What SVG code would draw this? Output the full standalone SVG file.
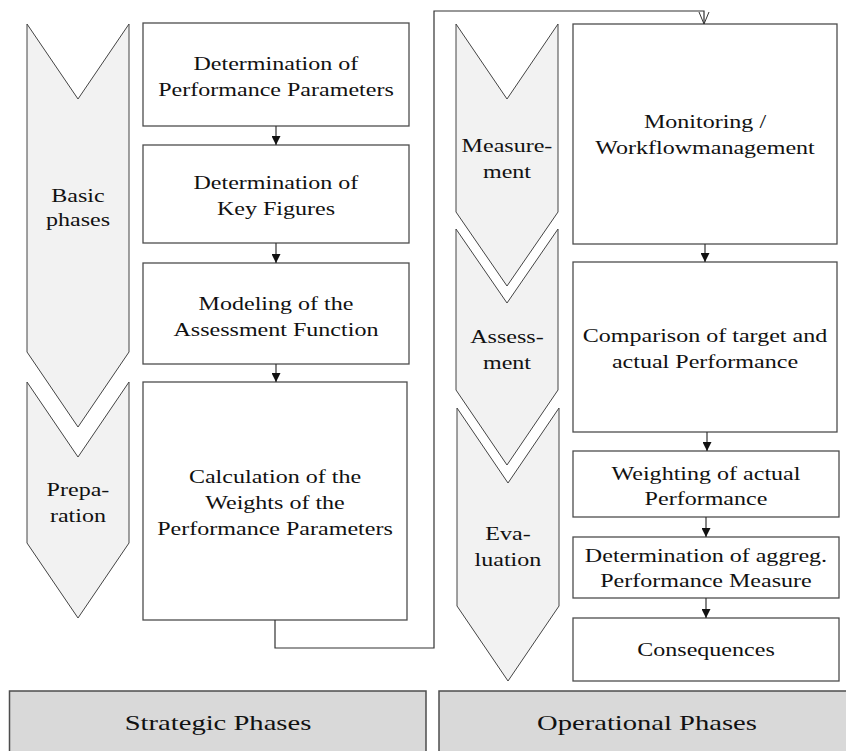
<svg xmlns="http://www.w3.org/2000/svg" width="846" height="751" viewBox="0 0 846 751">
  <style>
    text { font-family: "Liberation Serif", "DejaVu Serif", serif; font-size: 18.5px; fill: #111; text-anchor: middle;
           transform-box: fill-box; transform-origin: center; transform: scaleX(1.3); }
    .big { font-size: 22px; }
    .chev { fill: #f2f2f2; stroke: #444; stroke-width: 1; }
    .box { fill: #fff; stroke: #4d4d4d; stroke-width: 1.3; }
    .phase { fill: #d9d9d9; stroke: #4d4d4d; stroke-width: 1.5; }
    .link { fill: none; stroke: #333; stroke-width: 1.2; }
  </style>
  <defs>
    <marker id="tri" viewBox="0 0 10 10" refX="10" refY="5" markerWidth="10" markerHeight="9" markerUnits="userSpaceOnUse" orient="auto">
      <path d="M0,0 L10,5 L0,10 Z" fill="#111"/>
    </marker>
    <marker id="openv" viewBox="0 0 12 12" refX="12" refY="6" markerWidth="12" markerHeight="12" markerUnits="userSpaceOnUse" orient="auto">
      <path d="M0,1 L12,6 L0,11" fill="none" stroke="#333" stroke-width="1"/>
    </marker>
  </defs>

  <!-- phase chevrons, strategic side -->
  <g id="chev-basic">
    <path class="chev" d="M27,24 L78,99 L129,24 L129,352 L78,427 L27,352 Z"/>
    <text x="78" y="202">Basic</text>
    <text x="78" y="226">phases</text>
  </g>
  <g id="chev-preparation">
    <path class="chev" d="M27,382 L78,457 L129,382 L129,543 L78,618 L27,543 Z"/>
    <text x="78" y="496">Prepa-</text>
    <text x="78" y="522">ration</text>
  </g>

  <!-- phase chevrons, operational side -->
  <g id="chev-measurement">
    <path class="chev" d="M456,24 L507,99 L558,24 L558,212 L507,286 L456,212 Z"/>
    <text x="507" y="152">Measure-</text>
    <text x="507" y="178">ment</text>
  </g>
  <g id="chev-assessment">
    <path class="chev" d="M456,229 L507,303 L558,229 L558,390 L507,465 L456,390 Z"/>
    <text x="507" y="343">Assess-</text>
    <text x="507" y="369">ment</text>
  </g>
  <g id="chev-evaluation">
    <path class="chev" d="M457,408 L508,483 L559,408 L559,606 L508,681 L457,606 Z"/>
    <text x="508" y="540">Eva-</text>
    <text x="508" y="566">luation</text>
  </g>

  <!-- strategic steps -->
  <g id="perf-params">
    <rect class="box" x="143" y="23" width="266" height="103"/>
    <text x="276" y="70">Determination of</text>
    <text x="276" y="96">Performance Parameters</text>
  </g>
  <g id="key-figures">
    <rect class="box" x="143" y="145" width="266" height="98"/>
    <text x="276" y="189">Determination of</text>
    <text x="276" y="215">Key Figures</text>
  </g>
  <g id="assessment-function">
    <rect class="box" x="143" y="263" width="266" height="101"/>
    <text x="276" y="310">Modeling of the</text>
    <text x="276" y="336">Assessment Function</text>
  </g>
  <g id="weights">
    <rect class="box" x="143" y="382" width="264" height="238"/>
    <text x="275" y="483">Calculation of the</text>
    <text x="275" y="509">Weights of the</text>
    <text x="275" y="535">Performance Parameters</text>
  </g>

  <!-- operational steps -->
  <g id="monitoring">
    <rect class="box" x="573" y="24" width="264" height="220"/>
    <text x="705" y="128">Monitoring /</text>
    <text x="705" y="154">Workflowmanagement</text>
  </g>
  <g id="comparison">
    <rect class="box" x="573" y="262" width="264" height="170"/>
    <text x="705" y="342">Comparison of target and</text>
    <text x="705" y="368">actual Performance</text>
  </g>
  <g id="weighting">
    <rect class="box" x="573" y="451" width="266" height="66"/>
    <text x="706" y="480">Weighting of actual</text>
    <text x="706" y="505">Performance</text>
  </g>
  <g id="aggregate">
    <rect class="box" x="573" y="537" width="266" height="61"/>
    <text x="706" y="562">Determination of aggreg.</text>
    <text x="706" y="587">Performance Measure</text>
  </g>
  <g id="consequences">
    <rect class="box" x="573" y="618" width="266" height="63"/>
    <text x="706" y="656">Consequences</text>
  </g>

  <!-- phase bands -->
  <g id="strategic">
    <rect class="phase" x="9.5" y="691" width="416.5" height="80"/>
    <text class="big" x="218" y="730">Strategic Phases</text>
  </g>
  <g id="operational">
    <rect class="phase" x="439" y="691" width="420" height="80"/>
    <text class="big" x="647" y="730">Operational Phases</text>
  </g>

  <!-- connectors -->
  <g id="connectors">
    <line class="link" x1="276" y1="126" x2="276" y2="145" marker-end="url(#tri)"/>
    <line class="link" x1="276" y1="243" x2="276" y2="263" marker-end="url(#tri)"/>
    <line class="link" x1="276" y1="364" x2="276" y2="382" marker-end="url(#tri)"/>
    <line class="link" x1="705" y1="244" x2="705" y2="262" marker-end="url(#tri)"/>
    <line class="link" x1="707" y1="432" x2="707" y2="451" marker-end="url(#tri)"/>
    <line class="link" x1="706" y1="517" x2="706" y2="537" marker-end="url(#tri)"/>
    <line class="link" x1="706" y1="598" x2="706" y2="618" marker-end="url(#tri)"/>
    <path class="link" d="M275,620 V648 H434 V11 H704 V24" marker-end="url(#openv)"/>
  </g>
</svg>
